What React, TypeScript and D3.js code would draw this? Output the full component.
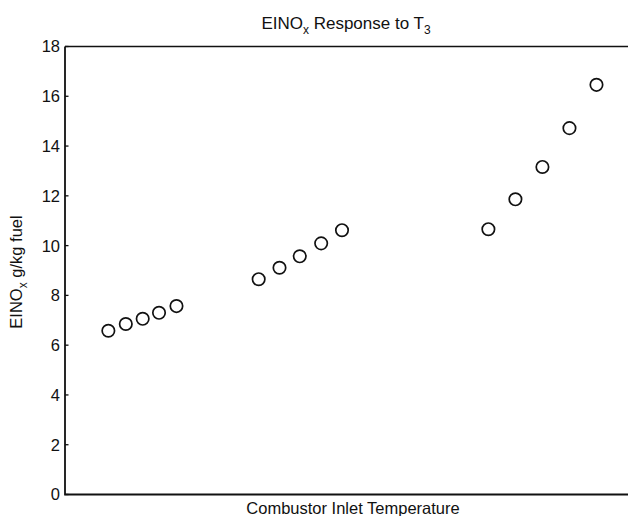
import React from "react";
import * as d3 from "d3";

const groupTemps: number[] = [7.7, 10.8, 13.8, 16.7, 19.8, 34.4, 38.1, 41.7, 45.5, 49.2, 75.2, 80.0, 84.8, 89.6, 94.4];
const einox: number[] = [6.58, 6.85, 7.06, 7.3, 7.57, 8.65, 9.11, 9.57, 10.09, 10.62, 10.66, 11.86, 13.16, 14.72, 16.46];
const yTicks: number[] = [0, 2, 4, 6, 8, 10, 12, 14, 16, 18];

const W = 628;
const H = 516;
const left = 65;
const right = 628;
const top = 46.5;
const bottom = 494.5;
const FONT = "'Liberation Sans', Arial, Helvetica, sans-serif";

export default function App() {
  const x = d3.scaleLinear().domain([0, 100]).range([left, right]);
  const y = d3.scaleLinear().domain([0, 18]).range([bottom, top]);
  const pts = groupTemps.map((t, i) => ({ t, v: einox[i] }));
  return (
    <svg width={W} height={H} style={{ position: "absolute", left: 0, top: 0, background: "#fff" }} fontFamily={FONT}>
      <rect x={0} y={0} width={W} height={H} fill="#fff" />
      <path d={`M${left},${top}H${right + 5}`} stroke="#111" strokeWidth={1.6} fill="none" />
      <path d={`M${left},${top}V${bottom}H${right + 5}`} stroke="#111" strokeWidth={1.8} fill="none" />
      {yTicks.map((t) => (
        <g key={t}>
          <line x1={left} x2={left + 3.5} y1={y(t)} y2={y(t)} stroke="#111" strokeWidth={1.3} />
          <text x={left - 5} y={y(t)} dy="0.36em" textAnchor="end" fontSize={16.5} fill="#111">
            {t}
          </text>
        </g>
      ))}
      {pts.map((p, i) => (
        <circle key={i} cx={x(p.t)} cy={y(p.v)} r={6.2} fill="none" stroke="#111" strokeWidth={1.7} />
      ))}
      <text x={346} y={29} textAnchor="middle" fontSize={17} fill="#111">
        EINO
        <tspan fontSize={12} dy={5}>x</tspan>
        <tspan dy={-5}> Response to T</tspan>
        <tspan fontSize={12} dy={5}>3</tspan>
      </text>
      <text x={353} y={514} textAnchor="middle" fontSize={16.5} fill="#111">
        Combustor Inlet Temperature
      </text>
      <text transform={`translate(22,272) rotate(-90)`} textAnchor="middle" fontSize={16.5} fill="#111">
        EINO
        <tspan fontSize={12} dy={5}>x</tspan>
        <tspan dy={-5}> g/kg fuel</tspan>
      </text>
    </svg>
  );
}
